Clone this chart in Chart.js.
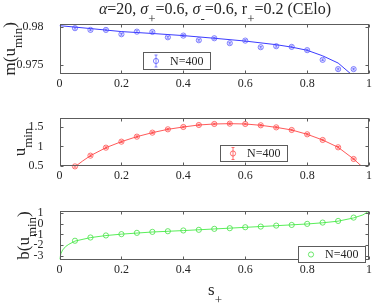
<!DOCTYPE html>
<html>
<head>
<meta charset="utf-8">
<script src="https://cdn.jsdelivr.net/npm/chart.js@4.4.1/dist/chart.umd.min.js"></script>
<style>
html, body { margin: 0; padding: 0; background: #fff; }
#wrap { position: relative; width: 374px; height: 303px; }
#wrap canvas { position: absolute; left: 0; top: 0; }
</style>
</head>
<body>
<div id="wrap">
  <canvas id="c1" width="374" height="303"></canvas>
  <canvas id="c2" width="374" height="303"></canvas>
  <canvas id="c3" width="374" height="303"></canvas>
</div>
<script>
// s+ der Messpunkte
const sPlus = [0.05, 0.1, 0.15, 0.2, 0.25, 0.3, 0.35, 0.4, 0.45, 0.5, 0.55, 0.6, 0.65, 0.7, 0.75, 0.8, 0.85, 0.9, 0.95];

// oben: m(u_min)
const mVals = [0.9798, 0.97957, 0.97957, 0.97900, 0.97934, 0.97930, 0.97860, 0.97882, 0.97821, 0.97847, 0.97782, 0.97816, 0.97729, 0.97742, 0.97733, 0.97690, 0.97562, 0.97440, 0.97440];
const mErr = [0.00012, 0.00012, 0.00012, 0.00012, 0.00012, 0.00012, 0.00012, 0.00012, 0.00012, 0.00012, 0.00012, 0.00012, 0.00012, 0.00012, 0.00012, 0.00012, 0.00012, 0.00012, 0.00012];
const mCurveS = [0, 0.1, 0.2, 0.3, 0.4, 0.5, 0.6, 0.7, 0.75, 0.8, 0.85, 0.9, 0.94, 0.96];
const mCurveV = [0.98013, 0.97975, 0.97935, 0.97910, 0.97882, 0.97847, 0.97810, 0.97762, 0.97730, 0.97688, 0.97615, 0.97520, 0.97380, 0.97300];
const mTicks = [0.975, 0.98];

// mitte: u_min
const uVals = [0.49, 0.765, 0.97, 1.124, 1.252, 1.355, 1.44, 1.50, 1.551, 1.577, 1.585, 1.577, 1.543, 1.49, 1.423, 1.312, 1.167, 0.979, 0.68];
const uErr = [0.02, 0.02, 0.02, 0.02, 0.02, 0.02, 0.02, 0.02, 0.02, 0.02, 0.02, 0.02, 0.02, 0.02, 0.02, 0.02, 0.02, 0.02, 0.02];
const uCurveS = [0.04, 0.05, 0.075, 0.1, 0.15, 0.2, 0.25, 0.3, 0.35, 0.4, 0.45, 0.5, 0.55, 0.6, 0.65, 0.7, 0.75, 0.8, 0.85, 0.9, 0.95, 0.975, 0.99];
const uCurveV = [0.42, 0.48, 0.63, 0.765, 0.97, 1.124, 1.252, 1.355, 1.44, 1.50, 1.551, 1.577, 1.585, 1.577, 1.543, 1.49, 1.423, 1.312, 1.167, 0.979, 0.68, 0.50, 0.35];
const uTicks = [0.5, 1, 1.5];

// unten: b(u_min)
const bVals = [-1.59, -1.29, -1.10, -0.98, -0.86, -0.77, -0.71, -0.64, -0.58, -0.49, -0.43, -0.34, -0.28, -0.19, -0.13, -0.03, 0.09, 0.24, 0.55];
const bCurveS = [0, 0.005, 0.01, 0.02, 0.03, 0.05, 0.1, 0.15, 0.2, 0.3, 0.4, 0.5, 0.6, 0.7, 0.8, 0.85, 0.9, 0.95, 0.98, 1];
const bCurveV = [-3.3, -2.75, -2.45, -2.12, -1.92, -1.62, -1.30, -1.11, -0.98, -0.78, -0.65, -0.50, -0.35, -0.20, -0.04, 0.07, 0.22, 0.52, 0.80, 1.16];
const bTicks = [-3, -2, -1, 0, 1];

const xTicks = [0, 0.2, 0.4, 0.6, 0.8, 1];
const legendLabel = "N=400";

const FONT = '"Liberation Serif", "Times New Roman", serif';
const TXT = "#262626";

// text mit tief gestellten teilen: [text, art] art: "" normal, "s" sub, "i" kursiv
function richText(ctx, parts, x, y, size, subSize, subDrop) {
    const fontOf = p => (p[1] === "i" ? "italic " : "") + (p[1] === "s" ? subSize : size) + "px " + FONT;
    let w = 0;
    parts.forEach(p => { ctx.font = fontOf(p); w += ctx.measureText(p[0]).width; });
    let cx = x - w / 2;
    ctx.textBaseline = "alphabetic";
    ctx.textAlign = "left";
    parts.forEach(p => {
        ctx.font = fontOf(p);
        ctx.fillText(p[0], cx, y + (p[1] === "s" ? subDrop : 0));
        cx += ctx.measureText(p[0]).width;
    });
}

// rahmen, innere ticks, fehlerbalken, legende, beschriftungen
const framePlugin = {
    id: "frame",
    afterDatasetsDraw(chart) {
        const ctx = chart.ctx;
        const xs = chart.scales.x, ys = chart.scales.y;
        chart.data.datasets.forEach(ds => {
            if (!ds.errors) return;
            ctx.save();
            ctx.strokeStyle = ds.pointBorderColor;
            ctx.lineWidth = 0.9;
            ds.data.forEach((p, i) => {
                const px = xs.getPixelForValue(p.x);
                const y1 = ys.getPixelForValue(p.y - ds.errors[i]);
                const y2 = ys.getPixelForValue(p.y + ds.errors[i]);
                ctx.beginPath();
                ctx.moveTo(px, y1); ctx.lineTo(px, y2);
                ctx.moveTo(px - 1.5, y1); ctx.lineTo(px + 1.5, y1);
                ctx.moveTo(px - 1.5, y2); ctx.lineTo(px + 1.5, y2);
                ctx.stroke();
            });
            ctx.restore();
        });
    },
    afterDraw(chart) {
        const ctx = chart.ctx;
        const a = chart.chartArea;
        const o = chart.options.plugins.frame;
        const xs = chart.scales.x, ys = chart.scales.y;
        ctx.save();
        ctx.strokeStyle = "#5c5c5c";
        ctx.lineWidth = 1;
        const L = Math.round(a.left) + 0.5, R = Math.round(a.right) - 0.5;
        const T = Math.round(a.top) + 0.5, B = Math.round(a.bottom) - 0.5;
        ctx.strokeRect(L, T, R - L, B - T);
        ctx.beginPath();
        xTicks.forEach(v => {
            const px = Math.round(xs.getPixelForValue(v)) + 0.5;
            ctx.moveTo(px, B); ctx.lineTo(px, B - 3);
            ctx.moveTo(px, T); ctx.lineTo(px, T + 3);
        });
        o.yTicks.forEach(v => {
            const py = Math.round(ys.getPixelForValue(v)) + 0.5;
            ctx.moveTo(L, py); ctx.lineTo(L + 3, py);
            ctx.moveTo(R, py); ctx.lineTo(R - 3, py);
        });
        ctx.stroke();

        // x tick beschriftung
        ctx.fillStyle = TXT;
        ctx.font = "12px " + FONT;
        ctx.textAlign = "center";
        ctx.textBaseline = "alphabetic";
        xTicks.forEach(v => ctx.fillText(String(v), xs.getPixelForValue(v), a.bottom + 13));

        // legende
        const lg = o.legend;
        ctx.fillStyle = "#fff";
        ctx.fillRect(lg.x, lg.y, lg.w, lg.h);
        ctx.strokeRect(lg.x + 0.5, lg.y + 0.5, lg.w - 1, lg.h - 1);
        const ds = chart.data.datasets[1];
        const mx = lg.x + 13, my = lg.y + lg.h / 2;
        ctx.strokeStyle = ds.pointBorderColor;
        ctx.lineWidth = 0.9;
        ctx.beginPath();
        ctx.arc(mx, my, 2.6, 0, Math.PI * 2);
        if (ds.errors) {
            ctx.moveTo(mx, my - 6); ctx.lineTo(mx, my + 6);
            ctx.moveTo(mx - 1.5, my - 6); ctx.lineTo(mx + 1.5, my - 6);
            ctx.moveTo(mx - 1.5, my + 6); ctx.lineTo(mx + 1.5, my + 6);
        }
        ctx.stroke();
        ctx.fillStyle = TXT;
        ctx.font = "12px " + FONT;
        ctx.textAlign = "left";
        ctx.textBaseline = "middle";
        ctx.fillText(ds.label, lg.x + 27, my + 0.5);

        // y-achsen titel
        ctx.save();
        ctx.translate(o.yLabelX, (a.top + a.bottom) / 2);
        ctx.rotate(-Math.PI / 2);
        ctx.fillStyle = TXT;
        richText(ctx, o.yLabel, 0, 0, 17, 13, 7);
        ctx.restore();

        if (o.title) {
            ctx.fillStyle = TXT;
            richText(ctx, o.title, 215, 14, 16, 13, 9);
        }
        if (o.xLabel) {
            ctx.fillStyle = TXT;
            richText(ctx, o.xLabel, 215, 295, 17, 13, 8.5);
        }
        ctx.restore();
    }
};

function makePanel(id, cfg) {
    const pts = sPlus.map((s, i) => ({ x: s, y: cfg.vals[i] }));
    const curve = cfg.curveS.map((s, i) => ({ x: s, y: cfg.curveV[i] }));
    const tickFont = { family: FONT, size: 12 };
    return new Chart(document.getElementById(id), {
        type: "scatter",
        data: {
            datasets: [
                { data: curve, showLine: true, pointRadius: 0, borderColor: cfg.line, borderWidth: 1, clip: 0, order: 2 },
                { label: legendLabel, data: pts, showLine: false, pointRadius: 2.6, pointBorderWidth: 0.9,
                  pointBorderColor: cfg.marker, pointBackgroundColor: "rgba(0,0,0,0)", errors: cfg.err, clip: false, order: 1 }
            ]
        },
        options: {
            responsive: false,
            animation: false,
            devicePixelRatio: 1,
            events: [],
            layout: { padding: { left: 0, right: 2.5, top: cfg.top, bottom: 303 - cfg.bottom - 20 } },
            plugins: {
                legend: { display: false },
                tooltip: { enabled: false },
                frame: { yTicks: cfg.yTicks, legend: cfg.legend, yLabel: cfg.yLabel, yLabelX: cfg.yLabelX, title: cfg.title, xLabel: cfg.xLabel }
            },
            scales: {
                x: {
                    type: "linear", min: 0, max: 1,
                    afterBuildTicks: s => { s.ticks = xTicks.map(v => ({ value: v })); },
                    afterFit: s => { s.height = 20; s.paddingLeft = 0; s.paddingRight = 0; },
                    grid: { display: false }, border: { display: false },
                    ticks: { display: false }
                },
                y: {
                    type: "linear", min: cfg.min, max: cfg.max,
                    afterBuildTicks: s => { s.ticks = cfg.yTicks.map(v => ({ value: v })); },
                    afterFit: s => { s.width = 59.5; },
                    grid: { display: false }, border: { display: false },
                    ticks: { font: tickFont, color: TXT, padding: 8, autoSkip: false, callback: v => String(v) }
                }
            }
        },
        plugins: [framePlugin]
    });
}

makePanel("c1", {
    vals: mVals, err: mErr, curveS: mCurveS, curveV: mCurveV, yTicks: mTicks,
    min: 0.97382, max: 0.98035, top: 24, bottom: 73.5,
    line: "rgb(60,60,255)", marker: "rgba(70,70,255,0.75)",
    legend: { x: 143, y: 52, w: 68, h: 18 },
    yLabel: [["m(u", ""], ["min", "s"], [")", ""]], yLabelX: 15,
    title: [["α", "i"], ["=20, ", ""], ["σ", "i"], ["+", "s"], ["=0.6, ", ""], ["σ", "i"], ["-", "s"], ["=0.6, r", ""], ["+", "s"], ["=0.2 (CElo)", ""]]
});

makePanel("c2", {
    vals: uVals, err: uErr, curveS: uCurveS, curveV: uCurveV, yTicks: uTicks,
    min: 0.5, max: 1.73, top: 118, bottom: 166,
    line: "rgba(255,60,60,0.85)", marker: "rgba(255,60,60,0.8)",
    legend: { x: 220, y: 145, w: 68, h: 17 },
    yLabel: [["u", ""], ["min", "s"]], yLabelX: 25
});

makePanel("c3", {
    vals: bVals, err: null, curveS: bCurveS, curveV: bCurveV, yTicks: bTicks,
    min: -3.37, max: 1.16, top: 211, bottom: 260,
    line: "rgba(60,235,60,0.85)", marker: "rgba(60,225,60,0.85)",
    legend: { x: 298, y: 246, w: 68, h: 17 },
    yLabel: [["b(u", ""], ["min", "s"], [")", ""]], yLabelX: 29,
    xLabel: [["s", ""], ["+", "s"]]
});
</script>
</body>
</html>
